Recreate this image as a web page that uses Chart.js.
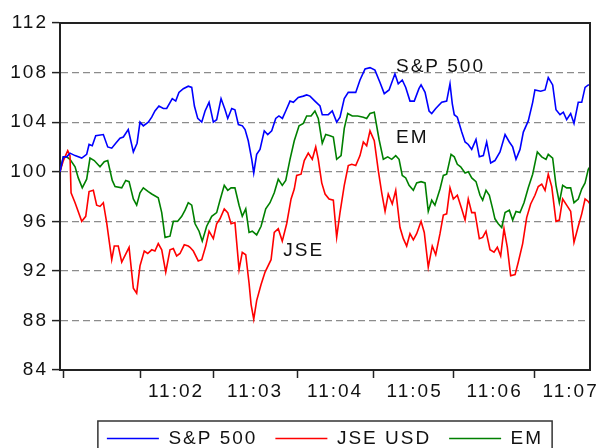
<!DOCTYPE html>
<html>
<head>
<meta charset="utf-8">
<script src="https://cdn.jsdelivr.net/npm/chart.js@4.4.1/dist/chart.umd.min.js"></script>
<style>
html, body { margin: 0; padding: 0; background: #fff; overflow: hidden; }
#wrap { position: relative; width: 604px; height: 470px; }
</style>
</head>
<body>
<div id="wrap"><canvas id="chart"></canvas></div>
<script>
// time = seconds since the first observation (about 11:01)
var spTime = [0,2.5,5,7.5,11.3,16.3,20,21.8,24.2,26.8,32.5,35.8,38.8,41.8,45,47.5,51.2,55,57.8,60,62.5,66.2,68.8,71.2,74.2,77.5,80,84.2,86.8,89.2,92.5,96.2,98.8,100.8,103.3,106.3,108.8,111.8,115,117.5,120.8,123.8,125.8,128.8,131.2,133.8,136.8,138.8,141.2,143.8,145.3,147.5,150,153.2,155.8,158.8,161.8,164.2,166.8,169.3,172.5,175,178.7,182.5,185,187.5,191.2,195,196.7,201.2,204.2,207.5,210,213.2,216.2,221.8,225,228.8,232.5,236.2,240,243.2,246.8,251.2,253.7,256.7,259.3,262.5,265.7,269.2,270.8,273.8,276.8,278.8,281.8,286.3,290,292.5,294.2,295.7,298,301.3,303.8,306.2,308.8,312,314.5,317.5,320,323,326.2,330,333.8,337,339.5,342,345,347.5,351.2,354.5,356.2,360.5,363.8,366.2,369.5,372,375,377.5,380,383,385.5,388.7,391.3,393.8,396.2,397.5];
var spValue = [100,101.2,101.2,101.5,101.3,101.1,101.4,102.2,102.1,102.9,103.0,102.0,101.9,102.3,102.7,102.8,103.4,101.6,102.3,104.0,103.7,104.0,104.4,104.9,105.3,105.1,105.1,105.9,105.7,106.4,106.7,106.9,106.8,105.3,104.3,104.0,104.9,105.6,104.0,104.2,105.9,105.0,104.3,105.1,105.0,103.8,103.7,103.4,102.5,101.0,99.9,101.4,101.8,103.3,103.0,103.3,104.3,104.5,104.3,104.9,105.7,105.6,106.0,106.1,106.2,106.1,105.7,105.3,104.6,104.6,104.9,104.0,104.4,105.9,106.4,106.4,107.4,108.3,108.4,108.2,107.2,106.3,106.6,107.9,107.1,107.4,106.8,105.7,105.7,106.7,107.0,106.4,104.9,104.7,105.1,105.6,105.7,107.1,105.5,104.6,104.4,103.2,102.4,102.2,101.8,102.6,101.2,101.3,102.4,100.7,100.9,101.6,103.0,102.4,102.0,101.0,101.8,103.2,104.1,105.6,106.6,106.5,106.6,107.6,107.0,105.0,104.6,104.8,104.2,104.7,103.9,105.6,105.6,106.8,107.0,107.0];

var jseTime = [0,2.5,5.8,7.5,8.3,11.3,16.3,19.3,21.8,25,27.5,30,32.5,35,38.8,40.7,43.7,46.3,51.8,55,57.5,60,63.2,65.8,68.8,71.2,73.7,76.3,79.3,82.5,85,87.5,90,93.2,96.2,97.5,100,103.7,106.3,109.3,111.8,115,117.5,120,123.2,125.8,128.3,131.2,134.3,136.7,139.3,141.8,143.3,145.3,147.5,150.8,153.8,158.3,160.7,163.7,166.7,170,173.3,175.7,177.5,180.8,183.2,186.2,189.2,191.8,193.7,196.3,198.8,201.8,205,207.5,210,213.2,216.2,218.8,221.8,225,227.5,230,232.5,235.7,238.7,241.3,243.8,246.2,249.2,251.8,255,257.5,260,262.5,265,267.5,270.8,273.2,276.2,279.2,281.8,285,287.5,290,292.5,295,298,301.3,303.8,306.2,308.8,311.2,314.5,317,319.5,322.5,325.5,328,330.5,333,335.5,338,341.3,343.7,347,350,353,356.2,358.7,361.3,363.8,366.2,368.8,372,374.5,377,380,383,385.5,388.7,391.3,393.8,396.2,397.5];
var jseValue = [100,100.9,101.7,101.3,98.3,97.5,96.0,96.4,98.4,98.5,97.3,97.2,97.5,95.9,92.9,94.0,94.0,92.7,93.9,90.6,90.2,92.4,93.6,93.4,93.7,93.6,94.2,93.7,91.9,93.7,93.8,93.2,93.4,94.1,94.0,93.9,93.6,92.8,92.9,94.0,95.2,94.6,95.8,96.2,97.0,96.7,95.8,95.9,92.1,93.5,93.3,91.0,89.3,88.1,89.6,90.9,91.9,92.9,95.1,95.4,94.4,95.8,97.8,98.6,99.7,99.8,100.9,101.5,101.0,102.0,101.0,99.1,98.2,97.8,97.7,94.7,96.7,98.9,100.5,100.6,100.5,101.3,102.4,102.1,103.3,102.5,100.1,98.3,96.8,98.2,97.4,98.5,95.5,94.6,94.0,95.0,94.5,95.0,96.0,95.1,92.3,94.0,93.3,95.0,96.5,96.6,98.7,97.8,98.1,97.0,96.1,97.8,96.7,96.7,94.6,94.7,95.2,93.7,93.5,93.9,93.2,95.4,93.9,91.6,91.7,92.7,94.2,96.3,97.4,98.1,98.8,99.0,98.5,99.8,98.8,96.0,96.1,97.8,97.3,96.8,94.3,95.6,96.6,97.8,97.6,97.4];

var emTime = [0,2.5,5,7.5,11.3,13.7,16.7,20,22.5,25.7,30,33.2,35.8,39.2,41.3,46.3,49.3,51.8,55,57.5,60,62.5,66.2,68.8,73.7,76.3,78.8,82.5,85,88.3,91.3,93.8,96.2,98.8,101.3,104.3,106.7,110,113.8,117.5,120,123.2,125.8,128.3,131.2,134.3,136.7,139.3,141.8,144.2,147.5,150.8,154.3,157.5,160.7,163.7,166.7,169.3,172.5,175.7,179.3,182.5,185,188.3,191.2,193.7,196.7,199.3,202.5,205,207.5,210.8,213.2,215.8,219.2,223.3,227.5,230,232.5,235.7,239.3,242.5,245.8,248.8,251.8,254.3,256.7,259.3,261.8,265,267.5,270.8,273.8,276.2,278.8,281.2,285,287.5,290,293.3,295.7,298,300.5,303.8,306.2,308.8,312,315,317,319.5,322,324.5,326.2,328.7,331.3,333.8,337,339.5,342,345,348,351.2,354.5,358,361.3,364.5,366.2,369.5,372,374.5,377,380,383,385.5,388.7,391.3,393.8,396.2,397.5];
var emValue = [100,101.2,101.2,101.0,100.4,99.5,98.7,99.4,101.1,100.9,100.4,100.8,100.9,99.3,98.8,98.7,99.3,99.2,97.8,97.3,98.3,98.7,98.4,98.2,97.9,96.7,94.7,94.8,96.0,96.0,96.4,96.9,97.5,97.3,95.8,95.2,94.4,95.6,96.4,96.7,97.7,98.9,98.5,98.7,98.7,97.3,96.4,97.0,95.1,95.2,94.9,95.6,97.0,97.5,98.3,99.4,98.9,99.3,101.0,102.5,103.7,103.9,104.5,104.5,104.9,104.3,102.3,103.0,102.9,102.8,101.0,101.3,103.5,104.7,104.5,104.5,104.4,104.3,104.7,104.8,102.6,101.0,101.2,101.0,101.3,101.0,99.7,99.5,98.9,98.5,99.1,99.2,99.1,96.8,97.7,97.3,98.6,99.7,99.8,101.4,101.2,100.6,100.4,99.9,100.0,99.5,99.2,98.1,97.7,98.5,98.1,97.0,96.2,95.8,95.5,96.7,96.9,96.1,96.8,96.7,97.5,98.7,99.8,101.6,101.2,101.0,101.4,101.1,98.9,97.5,98.9,98.7,98.7,97.5,97.8,98.6,99.1,100.2,100.4];

// x axis: tick marks at the minute edges, labels in between
var minuteEdges = [2.25, 60, 114.75, 177.75, 234.75, 294.75, 355.5];
var minuteLabels = ['11:02', '11:03', '11:04', '11:05', '11:06', '11:07'];
var labelTimes = [87, 146.3, 206.3, 266, 326, 383];

var yTicks = [84, 88, 92, 96, 100, 104, 108, 112];

var noteText = ['S&P 500', 'EM', 'JSE'];
var noteTime = [252, 252, 167.5];
var noteValue = [108.44, 102.75, 93.65];

var fontFamily = '"Liberation Sans", Arial, sans-serif';
Chart.defaults.font.family = fontFamily;
Chart.defaults.font.size = 19;
Chart.defaults.color = '#111';

function points(ts, vs) {
  return ts.map(function (t, i) { return { x: t, y: vs[i] }; });
}

var tickValues = minuteEdges.concat(labelTimes).sort(function (a, b) { return a - b; });

function labelIndex(v) {
  for (var i = 0; i < labelTimes.length; i++) {
    if (Math.abs(labelTimes[i] - v) < 1e-6) return i;
  }
  return -1;
}

var textSpacing = {
  id: 'textSpacing',
  beforeLayout: function (chart) { chart.ctx.letterSpacing = '2px'; },
  beforeDraw: function (chart) { chart.ctx.letterSpacing = '2px'; }
};

var frame = {
  id: 'frame',
  afterDatasetsDraw: function (chart) {
    var a = chart.chartArea, c = chart.ctx;
    c.save();
    c.strokeStyle = '#222';
    c.lineWidth = 2;
    c.beginPath();
    c.moveTo(a.left, a.top);
    c.lineTo(a.right, a.top);
    c.lineTo(a.right, a.bottom);
    c.stroke();
    c.restore();
  }
};

var notes = {
  id: 'notes',
  afterDatasetsDraw: function (chart) {
    var c = chart.ctx, xs = chart.scales.x, ys = chart.scales.y;
    c.save();
    c.font = '19px ' + fontFamily;
    c.fillStyle = '#111';
    c.textBaseline = 'middle';
    c.textAlign = 'left';
    noteText.forEach(function (s, i) {
      c.fillText(s, xs.getPixelForValue(noteTime[i]), ys.getPixelForValue(noteValue[i]));
    });
    c.restore();
  }
};

var legendBox = {
  id: 'legendBox',
  afterDraw: function (chart) {
    var boxes = chart.legend && chart.legend.legendHitBoxes;
    if (!boxes || !boxes.length) return;
    var l = Infinity, r = -Infinity, t = Infinity;
    boxes.forEach(function (b) {
      l = Math.min(l, b.left);
      r = Math.max(r, b.left + b.width);
      t = Math.min(t, b.top);
    });
    var c = chart.ctx;
    c.save();
    c.strokeStyle = '#333';
    c.lineWidth = 1.5;
    c.strokeRect(l - 9, t - 8, r - l + 18, 44);
    c.restore();
  }
};

new Chart(document.getElementById('chart'), {
  type: 'line',
  data: {
    datasets: [
      { label: 'S&P 500', data: points(spTime, spValue), borderColor: '#0000ff', backgroundColor: '#0000ff', borderWidth: 1.6, pointRadius: 0, tension: 0, fill: false },
      { label: 'JSE USD', data: points(jseTime, jseValue), borderColor: '#ff0000', backgroundColor: '#ff0000', borderWidth: 1.6, pointRadius: 0, tension: 0, fill: false },
      { label: 'EM', data: points(emTime, emValue), borderColor: '#008000', backgroundColor: '#008000', borderWidth: 1.6, pointRadius: 0, tension: 0, fill: false }
    ]
  },
  options: {
    responsive: true,
    maintainAspectRatio: false,
    animation: false,
    events: [],
    layout: { padding: { top: 23, right: 14, bottom: 12, left: 0 } },
    scales: {
      x: {
        type: 'linear',
        min: 0,
        max: 397.5,
        afterBuildTicks: function (scale) {
          scale.ticks = tickValues.map(function (v) { return { value: v }; });
        },
        afterFit: function (scale) { scale.height = 41; },
        ticks: {
          autoSkip: false,
          maxRotation: 0,
          padding: 2,
          color: '#111',
          callback: function (value) {
            var k = labelIndex(value);
            return k >= 0 ? minuteLabels[k] : '';
          }
        },
        grid: {
          drawOnChartArea: false,
          tickLength: 8,
          tickWidth: 1.5,
          tickColor: function (c) {
            return c.tick && labelIndex(c.tick.value) >= 0 ? 'rgba(0,0,0,0)' : '#222';
          }
        },
        border: { color: '#222', width: 2 }
      },
      y: {
        min: 84,
        max: 112,
        afterBuildTicks: function (scale) {
          scale.ticks = yTicks.map(function (v) { return { value: v }; });
        },
        afterFit: function (scale) { scale.width = 60; },
        ticks: { padding: 4, color: '#111' },
        grid: { color: '#8c8c8c', lineWidth: 1.2, tickLength: 8, tickWidth: 1.5, tickColor: '#222', tickBorderDash: [] },
        border: { color: '#222', width: 2, dash: [7, 4] }
      }
    },
    plugins: {
      tooltip: { enabled: false },
      legend: {
        position: 'bottom',
        fullSize: false,
        labels: {
          usePointStyle: true,
          pointStyle: 'line',
          pointStyleWidth: 52,
          color: '#111',
          padding: 18
        }
      }
    }
  },
  plugins: [textSpacing, frame, notes, legendBox]
});
</script>
</body>
</html>
